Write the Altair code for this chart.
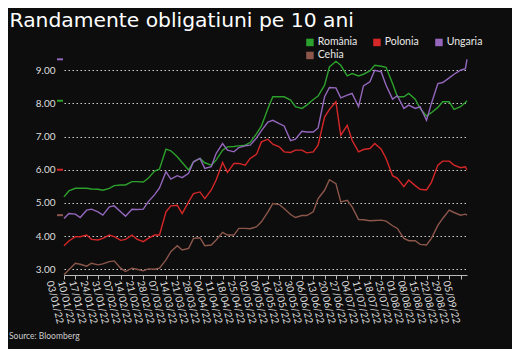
import altair as alt
import pandas as pd

TITLE = "Randamente obligatiuni pe 10 ani"
SOURCE = "Source: Bloomberg"

series = ["România", "Polonia", "Ungaria", "Cehia"]
colors = ["#2ca02c", "#d62728", "#9467bd", "#8c564b"]

dates = [
    "2022-01-03", "2022-01-06", "2022-01-10", "2022-01-13", "2022-01-17", "2022-01-20",
    "2022-01-24", "2022-01-27", "2022-01-31", "2022-02-03", "2022-02-07", "2022-02-10",
    "2022-02-14", "2022-02-17", "2022-02-21", "2022-02-24", "2022-02-28", "2022-03-03",
    "2022-03-07", "2022-03-10", "2022-03-14", "2022-03-17", "2022-03-21", "2022-03-24",
    "2022-03-28", "2022-03-31", "2022-04-04", "2022-04-07", "2022-04-11", "2022-04-14",
    "2022-04-18", "2022-04-21", "2022-04-25", "2022-04-28", "2022-05-02", "2022-05-05",
    "2022-05-09", "2022-05-12", "2022-05-16", "2022-05-19", "2022-05-23", "2022-05-26",
    "2022-05-30", "2022-06-02", "2022-06-06", "2022-06-09", "2022-06-13", "2022-06-16",
    "2022-06-20", "2022-06-23", "2022-06-27", "2022-06-30", "2022-07-04", "2022-07-07",
    "2022-07-11", "2022-07-14", "2022-07-18", "2022-07-21", "2022-07-25", "2022-07-28",
    "2022-08-01", "2022-08-04", "2022-08-08", "2022-08-11", "2022-08-15", "2022-08-18",
    "2022-08-22", "2022-08-25", "2022-08-29", "2022-09-01", "2022-09-05", "2022-09-08",
    "2022-09-09",
]

romania = [5.18, 5.36, 5.44, 5.44, 5.44, 5.42, 5.41, 5.38, 5.44, 5.52,
           5.54, 5.54, 5.64, 5.64, 5.63, 5.74, 5.96, 6.02, 6.62, 6.57,
           6.39, 6.22, 5.99, 6.24, 6.34, 6.21, 6.14, 6.29, 6.59, 6.69,
           6.70, 6.72, 6.74, 6.82, 7.09, 7.32, 7.85, 8.20, 8.20, 8.20,
           8.10, 7.90, 7.85, 7.95, 8.12, 8.22, 8.55, 9.10, 9.27, 9.15,
           8.83, 8.90, 8.83, 8.88, 8.98, 9.15, 9.12, 9.09, 8.60, 8.20,
           8.20, 8.30, 8.13, 7.85, 7.62, 7.72, 7.88, 8.05, 8.05, 7.82,
           7.90, 8.03, 8.08]

polonia = [3.71, 3.85, 3.98, 3.98, 4.03, 3.90, 3.88, 3.93, 4.03, 3.98,
           3.87, 3.90, 4.03, 3.91, 3.83, 3.93, 4.03, 4.03, 4.73, 4.91,
           4.93, 4.68, 5.03, 5.28, 5.33, 5.13, 5.39, 5.69, 6.22, 5.92,
           6.19, 6.19, 6.14, 6.34, 6.47, 6.84, 6.92, 6.77, 6.69, 6.54,
           6.52, 6.59, 6.59, 6.51, 6.54, 6.74, 7.59, 7.82, 8.05, 7.04,
           7.34, 6.89, 6.54, 6.61, 6.64, 6.79, 6.62, 6.34, 5.82, 5.74,
           5.49, 5.69, 5.52, 5.41, 5.39, 5.62, 6.14, 6.26, 6.26, 6.14,
           6.06, 6.09, 6.00]

ungaria = [4.53, 4.68, 4.66, 4.56, 4.78, 4.81, 4.73, 4.63, 4.88, 4.91,
           4.73, 4.60, 4.81, 4.80, 4.81, 5.03, 5.25, 5.45, 5.94, 5.72,
           5.82, 5.76, 5.89, 6.24, 6.34, 6.04, 6.09, 6.49, 6.79, 6.59,
           6.54, 6.67, 6.72, 6.74, 6.96, 7.18, 7.44, 7.49, 7.39, 7.32,
           6.88, 6.92, 7.16, 7.14, 7.14, 7.26, 8.20, 8.48, 8.47, 8.17,
           8.25, 8.30, 7.90, 8.53, 8.65, 9.00, 8.95, 8.55, 8.13, 8.23,
           7.85, 7.95, 7.85, 7.90, 7.49, 8.00, 8.60, 8.63, 8.77, 8.88,
           9.00, 9.05, 9.33]

cehia = [2.83, 2.98, 3.18, 3.15, 3.09, 3.18, 3.13, 3.16, 3.23, 3.25,
         3.03, 2.93, 3.03, 3.00, 2.95, 3.01, 3.00, 3.03, 3.28, 3.53,
         3.71, 3.58, 3.63, 3.93, 3.95, 3.71, 3.73, 3.88, 4.11, 4.03,
         4.03, 4.23, 4.23, 4.22, 4.28, 4.43, 4.73, 4.98, 4.95, 4.83,
         4.65, 4.56, 4.62, 4.62, 4.73, 5.13, 5.38, 5.70, 5.58, 5.03,
         5.08, 4.88, 4.50, 4.49, 4.46, 4.47, 4.48, 4.45, 4.31, 4.23,
         3.93, 3.86, 3.86, 3.75, 3.73, 3.93, 4.32, 4.53, 4.78, 4.71,
         4.63, 4.66, 4.63]

tick_dates = [
    "2022-01-03", "2022-01-10", "2022-01-17", "2022-01-24", "2022-01-31", "2022-02-07",
    "2022-02-14", "2022-02-21", "2022-02-28", "2022-03-07", "2022-03-14", "2022-03-21",
    "2022-03-28", "2022-04-04", "2022-04-11", "2022-04-18", "2022-04-25", "2022-05-02",
    "2022-05-09", "2022-05-16", "2022-05-23", "2022-05-30", "2022-06-06", "2022-06-13",
    "2022-06-20", "2022-06-27", "2022-07-04", "2022-07-11", "2022-07-18", "2022-07-25",
    "2022-08-01", "2022-08-08", "2022-08-15", "2022-08-22", "2022-08-29", "2022-09-05",
]
y_ticks = [3, 4, 5, 6, 7, 8, 9]

FONT = "Lato"
TITLE_FONT = "DejaVu Sans"


def dt(s):
    y, m, d = (int(p) for p in s.split("-"))
    return alt.DateTime(year=y, month=m, date=d)


values = {"România": romania, "Polonia": polonia, "Ungaria": ungaria, "Cehia": cehia}


def long_df(names):
    rows = []
    for name in names:
        for d, v in zip(dates, values[name]):
            rows.append({"date": d + "T00:00:00", "serie": name, "v": v})
    return pd.DataFrame(rows)


def last_df(names):
    return pd.DataFrame({"serie": names, "v": [values[s][-1] for s in names]})


def make_legend(y):
    return alt.Legend(
        title=None, orient="none", legendX=240.7, legendY=y, direction="horizontal",
        symbolType="square", symbolSize=2.25, symbolStrokeWidth=6, symbolOpacity=1,
        labelColor="#e8e8e8", labelFont=FONT, labelFontSize=10.5, labelOffset=2.5,
        columnPadding=6, padding=0, labelLimit=200,
    )


y_enc = alt.Y(
    "v:Q",
    scale=alt.Scale(domain=[2.825, 9.4], nice=False, zero=False),
    axis=alt.Axis(
        values=y_ticks, format=".2f", domain=False, ticks=False, labelPadding=9,
        labelOverlap=False, grid=True, gridColor="#cfcfcf", gridDash=[1.5, 2.5],
        gridWidth=1, labelColor="#dddddd", labelFont=FONT, labelFontSize=10, title=None,
    ),
)

x_enc = alt.X(
    "date:T",
    scale=alt.Scale(domain=[dt("2022-01-03"), dt("2022-09-09")], nice=False),
    axis=alt.Axis(
        values=[dt(t) for t in tick_dates], format="%d/%m/%y", labelAngle=76,
        labelAlign="left", labelBaseline="middle", labelOverlap=False, labelFlush=False,
        labelPadding=1.5, labelOffset=-15, labelColor="#dddddd", labelFont=FONT,
        labelFontSize=10, domainColor="#bbbbbb", tickColor="#bbbbbb", tickSize=4,
        grid=False, title=None,
    ),
)


def group(names, cols, legend_y):
    color = alt.Color(
        "serie:N", scale=alt.Scale(domain=names, range=cols), sort=names,
        legend=make_legend(legend_y),
    )
    lines = alt.Chart(long_df(names)).mark_line(strokeWidth=1.4).encode(
        x=x_enc, y=y_enc, color=color, order=alt.Order("date:T")
    )
    markers = alt.Chart(last_df(names)).mark_rule(strokeWidth=2).encode(
        x=alt.value(-7), x2=alt.value(-1), y=y_enc, color=color
    )
    return alt.layer(lines, markers)


group_a = group(series[:3], colors[:3], -19.8)
group_b = group(series[3:], colors[3:], -6.8)

title = alt.Chart(pd.DataFrame({"t": [TITLE]})).mark_text(
    align="left", baseline="alphabetic", font=TITLE_FONT, fontSize=20.3, color="#ffffff"
).encode(x=alt.value(-54.5), y=alt.value(-30), text="t:N")

source = alt.Chart(pd.DataFrame({"t": [SOURCE]})).mark_text(
    align="left", baseline="middle", font=FONT, fontSize=8.5, color="#cccccc"
).encode(x=alt.value(-55), y=alt.value(278.5), text="t:N")

chart = alt.layer(group_b, group_a, title, source).resolve_scale(
    color="independent"
).properties(
    width=403, height=218,
    autosize=alt.AutoSizeParams(type="none"),
    padding={"left": 56, "top": 49, "right": 45, "bottom": 74},
    background="#0d0d0d",
).configure_view(strokeWidth=0)

chart.save("out.html", embed_options={"renderer": "svg", "actions": False})
